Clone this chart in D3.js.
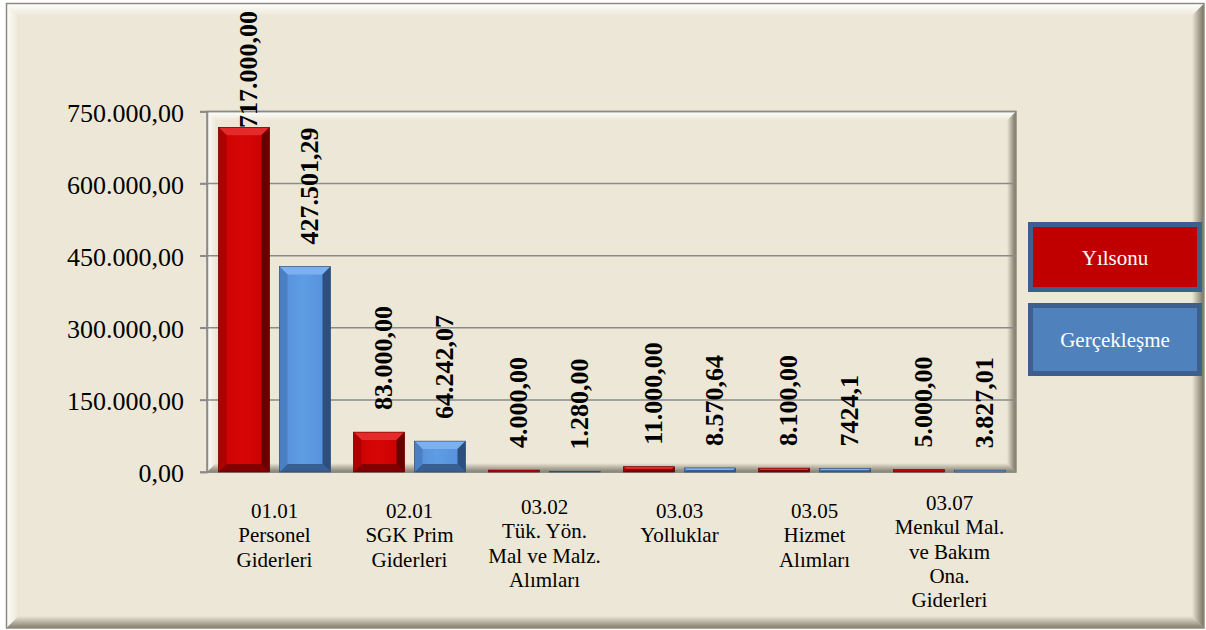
<!DOCTYPE html>
<html>
<head>
<meta charset="utf-8">
<script src="https://cdn.jsdelivr.net/npm/d3@7"></script>
<style>
    html, body { margin: 0; padding: 0; background: #fff; }
    svg { display: block; }
    text { font-family: "Liberation Serif", "Times New Roman", serif; }
</style>
</head>
<body>
<div id="chart"></div>
<script>
const categories = ['01.01', '02.01', '03.02', '03.03', '03.05', '03.07'];
const categoryLines = [
    ['01.01', 'Personel', 'Giderleri'],
    ['02.01', 'SGK Prim', 'Giderleri'],
    ['03.02', 'Tük. Yön.', 'Mal ve Malz.', 'Alımları'],
    ['03.03', 'Yolluklar'],
    ['03.05', 'Hizmet', 'Alımları'],
    ['03.07', 'Menkul Mal.', 've Bakım', 'Ona.', 'Giderleri']
];
const seriesNames = ['Yılsonu', 'Gerçekleşme'];
const yilsonu = [717000, 83000, 4000, 11000, 8100, 5000];
const gerceklesme = [427501.29, 64242.07, 1280, 8570.64, 7424.1, 3827.01];
const yilsonuLabels = ['717.000,00', '83.000,00', '4.000,00', '11.000,00', '8.100,00', '5.000,00'];
const gerceklesmeLabels = ['427.501,29', '64.242,07', '1.280,00', '8.570,64', '7424,1', '3.827,01'];
const yTicks = [0, 150000, 300000, 450000, 600000, 750000];

const W = 1206, H = 630;
const plot = { left: 207, right: 1016, top: 111.5, bottom: 472 };
const bg = '#ECE7D7';

const palettes = {
    'Yılsonu': { face: '#C80000', hi: '#D80606', top: '#E42A2A', left: '#AE0000', right: '#680000', bottom: '#820000', line: '#5A0000', legend: '#C00000' },
    'Gerçekleşme': { face: '#5590DA', hi: '#5E9CE4', top: '#7DB0EF', left: '#4A7FC4', right: '#2C4F80', bottom: '#385F94', line: '#2A4670', legend: '#4F81BD' }
};

const fmt = d3.formatLocale({ decimal: ',', thousands: '.', grouping: [3], currency: ['', ''] }).format(',.2f');

const svg = d3.select('#chart').append('svg')
    .attr('width', W)
    .attr('height', H);

const defs = svg.append('defs');
const grad = (id, x2, y2, stops) => {
    const g = defs.append('linearGradient').attr('id', id)
        .attr('x1', 0).attr('y1', 0).attr('x2', x2).attr('y2', y2);
    stops.forEach(([o, c, a]) => g.append('stop').attr('offset', o).attr('stop-color', c).attr('stop-opacity', a));
};
grad('lightDown', 0, 1, [[0, '#ffffff', 1], [1, '#ffffff', 0]]);
grad('lightRight', 1, 0, [[0, '#ffffff', 0.9], [1, '#ffffff', 0]]);
grad('darkRight', 1, 0, [[0, '#5f5a4a', 0], [1, '#5f5a4a', 0.85]]);
grad('darkDown', 0, 1, [[0, '#5f5a4a', 0], [1, '#5f5a4a', 0.75]]);
Object.keys(palettes).forEach((k, i) => {
    const p = palettes[k];
    grad('face' + i, 1, 0, [[0, p.face, 1], [0.45, p.hi, 1], [1, p.face, 1]]);
});

const poly = (g, pts, fill) => g.append('polygon')
    .attr('points', pts.map(p => p.join(',')).join(' '))
    .attr('fill', fill);

// bevelled frame: light top/left, dark right/bottom
const bevel = (x0, y0, x1, y1, d) => {
    const g = svg.append('g');
    g.append('rect').attr('x', x0).attr('y', y0).attr('width', x1 - x0).attr('height', y1 - y0).attr('fill', bg);
    poly(g, [[x0, y0], [x1, y0], [x1 - d, y0 + d], [x0 + d, y0 + d]], 'url(#lightDown)');
    poly(g, [[x0, y0], [x0 + d, y0 + d], [x0 + d, y1 - d], [x0, y1]], 'url(#lightRight)');
    poly(g, [[x1, y0], [x1, y1], [x1 - d, y1 - d], [x1 - d, y0 + d]], 'url(#darkRight)');
    poly(g, [[x0, y1], [x1, y1], [x1 - d, y1 - d], [x0 + d, y1 - d]], 'url(#darkDown)');
    g.append('rect').attr('x', x0).attr('y', y0).attr('width', x1 - x0).attr('height', y1 - y0)
        .attr('fill', 'none').attr('stroke', '#8e8b80').attr('stroke-width', 1.5);
    return g;
};

svg.append('rect').attr('width', W).attr('height', H).attr('fill', '#fff');
bevel(6.5, 3.5, 1204, 628, 12);
bevel(plot.left, plot.top, plot.right, plot.bottom, 9);

const y = d3.scaleLinear().domain([0, 750000]).range([plot.bottom, plot.top]);
const x0 = d3.scaleBand().domain(categories).range([plot.left, plot.right + 1]);
const x1 = d3.scaleBand().domain(seriesNames).range([11.5, 123.5]).paddingInner(0.164);

// gridlines
svg.append('g').selectAll('line')
    .data(yTicks.filter(t => t > 0))
    .join('line')
    .attr('x1', plot.left - 7).attr('x2', plot.right)
    .attr('y1', d => y(d)).attr('y2', d => y(d))
    .attr('stroke', '#8a8a8a').attr('stroke-width', 1.5);

svg.append('line')
    .attr('x1', plot.left - 7).attr('x2', plot.right)
    .attr('y1', plot.bottom).attr('y2', plot.bottom)
    .attr('stroke', '#8a8a8a').attr('stroke-width', 1.5);

const yAxis = svg.append('g')
    .attr('transform', `translate(${plot.left},0)`)
    .call(d3.axisLeft(y).tickValues(yTicks).tickFormat(fmt).tickSize(7).tickPadding(16));
yAxis.select('.domain').attr('stroke', '#8a8a8a').attr('stroke-width', 1.5);
yAxis.selectAll('.tick line').attr('stroke', '#8a8a8a').attr('stroke-width', 1.5);
yAxis.selectAll('.tick text')
    .attr('font-family', '"Liberation Serif", "Times New Roman", serif')
    .attr('font-size', 26)
    .attr('fill', '#000')
    .attr('dy', '0.38em');

// bars
const series = [
    { name: 'Yılsonu', values: yilsonu, labels: yilsonuLabels },
    { name: 'Gerçekleşme', values: gerceklesme, labels: gerceklesmeLabels }
];

const drawBar = (g, x, top, w, h, p, idx) => {
    if (h < 3) {
        g.append('rect').attr('x', x).attr('y', top).attr('width', w).attr('height', Math.max(h, 0.6))
            .attr('fill', p.face).attr('stroke', p.line).attr('stroke-width', 0.6);
        return;
    }
    const d = Math.min(8, h / 2, w / 2);
    const b = top + h;
    g.append('rect').attr('x', x).attr('y', top).attr('width', w).attr('height', h).attr('fill', 'url(#face' + idx + ')');
    poly(g, [[x, top], [x + w, top], [x + w - d, top + d], [x + d, top + d]], p.top);
    poly(g, [[x, b], [x + w, b], [x + w - d, b - d], [x + d, b - d]], p.bottom);
    poly(g, [[x, top], [x + d, top + d], [x + d, b - d], [x, b]], p.left);
    poly(g, [[x + w, top], [x + w - d, top + d], [x + w - d, b - d], [x + w, b]], p.right);
    g.append('rect').attr('x', x).attr('y', top).attr('width', w).attr('height', h)
        .attr('fill', 'none').attr('stroke', p.line).attr('stroke-width', 0.6);
};

const barLayer = svg.append('g');
const labelLayer = svg.append('g');

series.forEach((s, si) => {
    const p = palettes[s.name];
    s.values.forEach((v, i) => {
        const bx = x0(categories[i]) + x1(s.name);
        const bw = x1.bandwidth();
        const top = y(v);
        drawBar(barLayer.append('g'), bx, top, bw, plot.bottom - top, p, si);

        const label = labelLayer.append('text')
            .attr('font-size', 26)
            .attr('font-weight', 'bold')
            .attr('fill', '#000')
            .attr('text-anchor', 'start')
            .text(s.labels[i]);
        const len = label.node().getComputedTextLength();
        let yEnd = top - 22;
        if (yEnd - len < 11) yEnd = 11 + len;
        label.attr('transform', `translate(${bx + bw / 2 + 13},${yEnd}) rotate(-90)`);
    });
});

// category labels
const catText = svg.append('g').selectAll('text')
    .data(categories)
    .join('text')
    .attr('font-size', 21)
    .attr('fill', '#000')
    .attr('text-anchor', 'middle');

catText.each(function (c, i) {
    const lines = categoryLines[i];
    const cx = x0(c) + x0.bandwidth() / 2;
    const startY = 518 - Math.max(0, lines.length - 3) * 4;
    d3.select(this).selectAll('tspan')
        .data(lines)
        .join('tspan')
        .attr('x', cx)
        .attr('y', (d, j) => startY + j * 24.3)
        .text(d => d);
});

// legend
const legend = svg.append('g').selectAll('g')
    .data(seriesNames)
    .join('g')
    .attr('transform', (d, i) => `translate(1030.5,${i === 0 ? 224.5 : 305.5})`);

legend.append('rect')
    .attr('width', 169)
    .attr('height', (d, i) => i === 0 ? 65 : 68)
    .attr('fill', d => palettes[d].legend)
    .attr('stroke', '#3C5F8E')
    .attr('stroke-width', 5);

legend.append('text')
    .attr('x', 84.5)
    .attr('y', (d, i) => i === 0 ? 40.5 : 41.5)
    .attr('text-anchor', 'middle')
    .attr('font-size', 21)
    .attr('fill', '#fff')
    .text(d => d);
</script>
</body>
</html>
